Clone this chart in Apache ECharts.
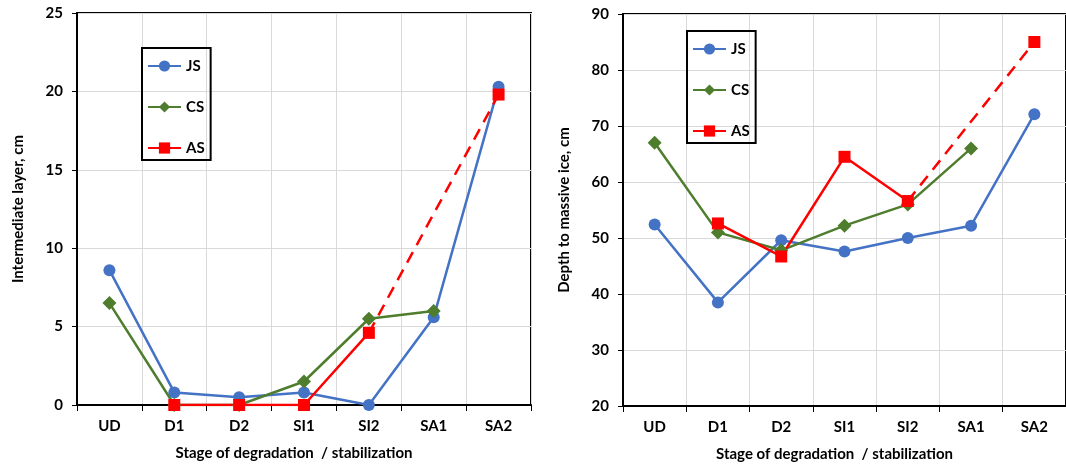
<!DOCTYPE html>
<html>
<head>
<meta charset="utf-8">
<script src="https://cdn.jsdelivr.net/npm/echarts@6/dist/echarts.min.js"></script>
<style>
  html, body { margin: 0; padding: 0; background: #fff; }
  #chart { width: 1066px; height: 467px; }
</style>
</head>
<body>
<div id="chart"></div>
<script>
var chart = echarts.init(document.getElementById("chart"));

// stages on the x axis
let stages = ["UD", "D1", "D2", "SI1", "SI2", "SA1", "SA2"];

// left panel: intermediate layer, cm
let layerJS = [8.6, 0.8, 0.5, 0.8, 0, 5.6, 20.3];
let layerCS = [6.5, 0, 0, 1.5, 5.5, 6.0, null];
let layerAS = [null, 0, 0, 0, 4.6, null, 19.8];
let layerASdash = [null, null, null, null, 4.6, null, 19.8];

// right panel: depth to massive ice, cm
let depthJS = [52.4, 38.5, 49.6, 47.6, 50.0, 52.2, 72.1];
let depthCS = [67.0, 51.0, 47.8, 52.2, 56.0, 66.0, null];
let depthAS = [null, 52.6, 46.7, 64.5, 56.6, null, 85.0];
let depthASdash = [null, null, null, null, 56.6, null, 85.0];

const FONT = "Lato";
const BLUE = "#4472C4";
const GREEN = "#4E7D2E";
const RED = "#FF0000";

function xAxisFor(gi) {
  return {
    type: "category",
    gridIndex: gi,
    data: stages,
    boundaryGap: true,
    name: "Stage of degradation  / stabilization",
    nameLocation: "middle",
    nameGap: 41,
    nameTextStyle: { fontFamily: FONT, fontWeight: "bold", fontSize: 15, color: "#000", padding: [0, 20, 0, 0] },
    axisLine: { lineStyle: { color: "#000", width: 2 } },
    axisTick: { show: true, length: 6, lineStyle: { color: "#000", width: 1 } },
    axisLabel: { margin: 14, fontFamily: FONT, fontWeight: "bold", fontSize: 15, color: "#000" },
    splitLine: { show: true, lineStyle: { color: "#d9d9d9", width: 1 } }
  };
}

function yAxisFor(gi, min, max, interval, name) {
  return {
    type: "value",
    gridIndex: gi,
    min: min,
    max: max,
    interval: interval,
    name: name,
    nameLocation: "middle",
    nameGap: 51,
    nameTextStyle: { fontFamily: FONT, fontWeight: "bold", fontSize: 15, color: "#000" },
    axisLine: { show: true, lineStyle: { color: "#000", width: 2 } },
    axisTick: { show: true, length: 5, lineStyle: { color: "#000", width: 1 } },
    axisLabel: { margin: 14, fontFamily: FONT, fontWeight: "bold", fontSize: 15, color: "#000" },
    splitLine: { show: true, lineStyle: { color: "#d9d9d9", width: 1 } }
  };
}

function legendFor(left, top) {
  return {
    left: left,
    top: top,
    orient: "vertical",
    data: ["JS", "CS", "AS"],
    itemWidth: 33,
    itemHeight: 14,
    itemGap: 25,
    padding: [10, 6, 4, 5],
    borderColor: "#000",
    borderWidth: 2,
    textStyle: { fontFamily: FONT, fontWeight: "bold", fontSize: 15, color: "#000", lineHeight: 16 }
  };
}

function seriesFor(gi, js, cs, as, asDash) {
  return [
    {
      name: "JS", type: "line", xAxisIndex: gi, yAxisIndex: gi, data: js,
      symbol: "circle", symbolSize: 12,
      itemStyle: { color: BLUE },
      lineStyle: { color: BLUE, width: 2.5 }
    },
    {
      name: "CS", type: "line", xAxisIndex: gi, yAxisIndex: gi, data: cs,
      symbol: "diamond", symbolSize: 14,
      itemStyle: { color: GREEN },
      lineStyle: { color: GREEN, width: 2.5 }
    },
    {
      name: "AS trend", type: "line", xAxisIndex: gi, yAxisIndex: gi, data: asDash,
      connectNulls: true, showSymbol: false,
      lineStyle: { color: RED, width: 2.5, type: [12, 8] }
    },
    {
      name: "AS", type: "line", xAxisIndex: gi, yAxisIndex: gi, data: as,
      symbol: "rect", symbolSize: 12,
      itemStyle: { color: RED },
      lineStyle: { color: RED, width: 2.5 }
    }
  ];
}

chart.setOption({
  animation: false,
  backgroundColor: "#fff",
  grid: [
    { left: 77, top: 13, width: 454, height: 392, show: true, borderColor: "#000", borderWidth: 2 },
    { left: 623, top: 14, width: 454, height: 392, show: true, borderColor: "#000", borderWidth: 2 }
  ],
  legend: [legendFor(142, 48), legendFor(687, 31)],
  xAxis: [xAxisFor(0), xAxisFor(1)],
  yAxis: [
    yAxisFor(0, 0, 25, 5, "Intermediate layer, cm"),
    yAxisFor(1, 20, 90, 10, "Depth to massive ice, cm")
  ],
  series: seriesFor(0, layerJS, layerCS, layerAS, layerASdash)
    .concat(seriesFor(1, depthJS, depthCS, depthAS, depthASdash))
});
</script>
</body>
</html>
